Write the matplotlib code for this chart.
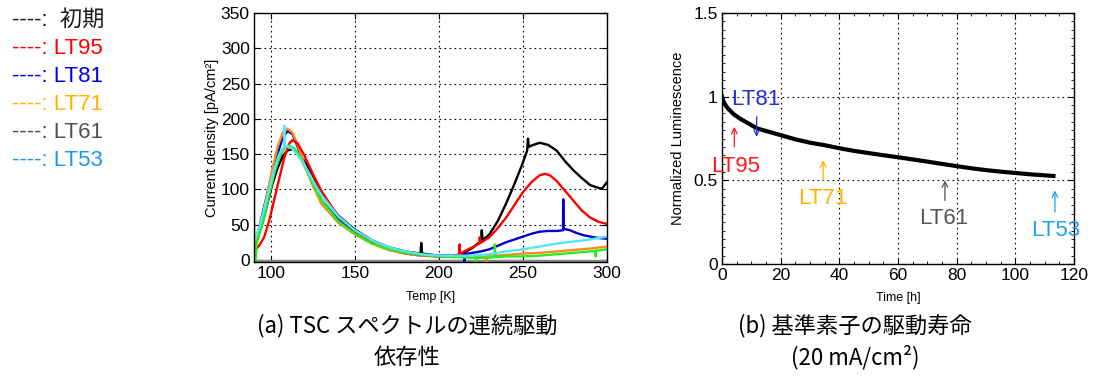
import matplotlib
matplotlib.use("Agg")
import matplotlib.pyplot as plt
from matplotlib.ticker import MultipleLocator

plt.rcParams['font.family'] = ['Liberation Sans', 'Noto Sans CJK JP', 'DejaVu Sans']

# ---- (a) TSC spectra, temperature [K] vs current density [pA/cm2]
temp_black = [90, 92, 95, 98, 101, 104, 107, 110, 113, 116, 120, 125, 130, 135, 140, 150, 160, 170, 180,
              189, 189.5, 190, 200, 210, 215, 220, 225, 225.5, 226, 230, 235, 240, 245, 250, 252.5, 253,
              253.5, 255, 260, 265, 270, 275, 280, 285, 290, 295, 297, 300]
j_black = [20, 30, 52, 80, 108, 130, 147, 155, 157, 152, 140, 120, 95, 78, 63, 43, 28, 18, 12,
           9, 24, 9, 6, 6, 10, 17, 27, 42, 28, 36, 55, 80, 108, 138, 155, 172,
           160, 162, 166, 163, 155, 140, 127, 116, 106, 102, 101, 110]

temp_red = [91, 93, 96, 99, 102, 105, 108, 111, 113, 116, 120, 125, 130, 140, 150, 160, 170, 180, 190,
            200, 205, 210, 212, 212.3, 212.6, 215, 220, 224, 224.3, 224.6, 230, 235, 240, 245, 250, 255,
            260, 263, 266, 270, 275, 280, 285, 290, 295, 300]
j_red = [15, 20, 32, 55, 85, 115, 145, 165, 170, 165, 148, 122, 98, 62, 41, 26, 16, 10, 7,
         5, 5, 6, 8, 22, 8, 12, 18, 23, 32, 24, 32, 45, 60, 78, 96, 110,
         120, 122, 120, 112, 98, 84, 70, 60, 54, 51]

temp_blue = [90, 93, 96, 100, 104, 107, 110, 113, 116, 120, 125, 130, 140, 150, 160, 170, 180, 190, 200,
             205, 210, 215, 215.3, 215.6, 220, 225, 230, 235, 240, 245, 250, 255, 260, 265, 270, 273.8,
             274, 274.2, 278, 282, 286, 290, 295, 300]
j_blue = [22, 45, 75, 115, 150, 173, 183, 178, 160, 135, 108, 85, 57, 38, 24, 15, 9, 6, 5,
          5, 6, 8, -3, 8, 10, 12, 15, 20, 25, 29, 33, 37, 40, 41, 41, 42,
          86, 44, 42, 38, 35, 33, 31, 30]

temp_orange = [90, 92, 95, 98, 101, 104, 107, 110, 113, 116, 120, 125, 130, 140, 150, 160, 170, 180, 190,
               200, 210, 220, 228, 228.3, 228.6, 240, 250, 260, 270, 280, 290, 300]
j_orange = [20, 35, 60, 95, 130, 160, 180, 186, 180, 163, 135, 105, 80, 53, 36, 23, 14, 9, 6,
            5, 5, 4, 5, -3, 5, 7, 9, 10, 12, 14, 16, 19]

temp_edge = [90, 90]
j_edge = [0, 250]

temp_green = [90, 91, 91.5, 93, 96, 99, 102, 105, 108, 111, 114, 117, 120, 125, 130, 140, 150, 160, 170,
              180, 190, 200, 210, 220, 222, 222.3, 222.6, 230, 233, 233.3, 233.6, 240, 250, 260, 270,
              280, 290, 293, 293.3, 293.6, 300]
j_green = [20, 0, 22, 35, 60, 92, 122, 145, 158, 162, 158, 148, 133, 108, 85, 55, 37, 24, 15,
           10, 7, 5, 4, 3, 3, -3, 3, 3, 4, 22, 4, 5, 5, 6, 8,
           10, 12, 13, 5, 13, 15]

temp_cyan = [90, 93, 96, 99, 102, 105, 107.8, 108, 108.2, 110, 113, 116, 120, 125, 130, 140, 150, 160,
             170, 180, 190, 200, 210, 220, 230, 240, 250, 260, 270, 280, 290, 300]
j_cyan = [25, 45, 72, 100, 128, 150, 160, 190, 160, 161, 157, 148, 135, 112, 92, 62, 42, 28,
          18, 12, 8, 6, 6, 6, 8, 12, 15, 19, 23, 26, 29, 33]

temp_gray = [90, 300]
j_gray = [-2, -2]

# ---- (b) luminance decay
time_h = [0, 0.5, 1, 2, 4, 6, 8, 10, 12, 14, 17, 20, 25, 30, 35, 40, 45, 50, 55, 60, 65, 70, 75,
          80, 85, 90, 95, 100, 105, 110, 113]
lum = [1.0, 0.97, 0.955, 0.93, 0.895, 0.87, 0.85, 0.83, 0.81, 0.80, 0.785, 0.77, 0.745, 0.725, 0.71,
       0.692, 0.676, 0.663, 0.65, 0.638, 0.625, 0.612, 0.598, 0.585, 0.572, 0.561, 0.552, 0.544,
       0.536, 0.53, 0.526]

legend_labels = ['初期', 'LT95', 'LT81', 'LT71', 'LT61', 'LT53']
legend_colors = ['#1a1a1a', '#ff0000', '#0000ee', '#ffb300', '#505050', '#1e96f0']

marks = ['LT95', 'LT81', 'LT71', 'LT61', 'LT53']
mark_time = [4.2, 11.8, 34.5, 76, 113.5]
mark_tail = [0.70, 0.88, 0.50, 0.38, 0.31]
mark_head = [0.82, 0.76, 0.62, 0.50, 0.44]
mark_text_y = [0.585, 0.985, 0.39, 0.27, 0.20]
mark_text_x = [4.5, 11.5, 34.2, 75.6, 113.6]
mark_colors = ['#ff1a1a', '#1f2fe0', '#ffb300', '#555555', '#22a0f0']

fig = plt.figure(figsize=(10.94, 3.85), dpi=100)

ax1 = fig.add_axes([254 / 1094, 1 - 262 / 385, 353 / 1094, 249 / 385])
lw = 1.7
ax1.plot(temp_gray, j_gray, color='#888888', lw=2.5)
ax1.plot(temp_edge, j_edge, color='#9a5a1e', lw=lw)
ax1.plot(temp_black, j_black, color='black', lw=lw)
ax1.plot(temp_blue, j_blue, color='#0000cc', lw=lw)
ax1.plot(temp_orange, j_orange, color='#ff8c1a', lw=lw)
ax1.plot(temp_red, j_red, color='#ff0000', lw=lw)
ax1.plot(temp_green, j_green, color='#22ee22', lw=lw)
ax1.plot(temp_cyan, j_cyan, color='#55e6f5', lw=lw)
ax1.set_xlim(90, 300)
ax1.set_ylim(-3, 350)
ax1.set_xticks([100, 150, 200, 250, 300])
ax1.set_yticks(range(0, 351, 50))
ax1.set_xlabel('Temp [K]', fontsize=9)
ax1.xaxis.set_label_coords(0.5, -0.115)
ax1.set_ylabel('Current density [pA/cm²]', fontsize=10.5)
ax1.yaxis.set_label_coords(-0.10, 0.5)

ax2 = fig.add_axes([722 / 1094, 1 - 264 / 385, 352 / 1094, 251 / 385])
ax2.plot(time_h, lum, color='black', lw=3.0)
ax2.set_xlim(0, 120)
ax2.set_ylim(0, 1.5)
ax2.set_xticks(range(0, 121, 20))
ax2.set_yticks([0, 0.5, 1, 1.5])
ax2.set_yticklabels(['0', '0.5', '1', '1.5'])
ax2.xaxis.set_minor_locator(MultipleLocator(5))
ax2.yaxis.set_minor_locator(MultipleLocator(0.05))
ax2.set_xlabel('Time [h]', fontsize=9)
ax2.xaxis.set_label_coords(0.5, -0.11)
ax2.set_ylabel('Normalized Luminescence', fontsize=10.5)
ax2.yaxis.set_label_coords(-0.105, 0.5)

for name, tx, t0, t1, ty, lx, c in zip(marks, mark_time, mark_tail, mark_head, mark_text_y,
                                        mark_text_x, mark_colors):
    ax2.annotate('', xy=(tx, t1), xytext=(tx, t0),
                 arrowprops=dict(arrowstyle='->', color=c, lw=0.9, shrinkA=0, shrinkB=0))
    ax2.text(lx, ty, name, color=c, fontsize=16, ha='center', va='center')

for ax in (ax1, ax2):
    ax.grid(True, linestyle=(0, (1.5, 3)), color='black', lw=0.8)
    ax.tick_params(direction='in', top=True, right=True, length=4, labelsize=12.5, pad=3)
    ax.tick_params(which='minor', direction='in', top=True, right=True, length=2.5)
    for s in ax.spines.values():
        s.set_linewidth(1.0)

legend_y = [20, 49, 77, 105, 133, 161]
for lab, c, yy in zip(legend_labels, legend_colors, legend_y):
    sep = ':  ' if lab == '初期' else ': '
    fig.text(12 / 1094, 1 - yy / 385, '----' + sep + lab, color=c, fontsize=16, va='center', ha='left')

cap = ['Noto Sans CJK JP', 'DejaVu Sans']
fig.text(407 / 1094, 1 - 326 / 385, '(a) TSC スペクトルの連続駆動', fontsize=16, family=cap,
         ha='center', va='center')
fig.text(407 / 1094, 1 - 357 / 385, '依存性', fontsize=16, family=cap, ha='center', va='center')
fig.text(855 / 1094, 1 - 326 / 385, '(b) 基準素子の駆動寿命', fontsize=16, family=cap,
         ha='center', va='center')
fig.text(855 / 1094, 1 - 357 / 385, '(20 mA/cm²)', fontsize=16, family=cap, ha='center', va='center')

fig.savefig('out.png', dpi=100)
